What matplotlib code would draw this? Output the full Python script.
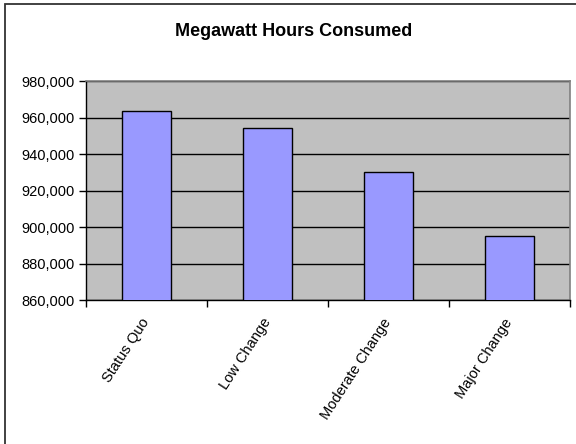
import matplotlib.pyplot as plt
from matplotlib.patches import Rectangle
from matplotlib.ticker import FuncFormatter, FixedLocator
import numpy as np

plt.rcParams['font.family'] = ['Liberation Sans', 'DejaVu Sans']

scenarios = ['Status Quo', 'Low Change', 'Moderate Change', 'Major Change']
mwh = [963700, 954400, 930100, 895200]
y_ticks = [860000, 880000, 900000, 920000, 940000, 960000, 980000]

fig = plt.figure(figsize=(5.76, 4.44), dpi=100)

# chart area frame (top and left edges show, the rest runs off the canvas)
fig.patches.append(Rectangle((5 / 576, -0.05), 1.2, 1 - 4 / 444 + 0.05,
                             transform=fig.transFigure, fill=False,
                             edgecolor='#333333', linewidth=1.3))

ax = fig.add_axes([86 / 576, 1 - 300 / 444, (570 - 86) / 576, (300 - 81) / 444])
ax.set_facecolor('#C0C0C0')

x = np.arange(len(scenarios))
ax.bar(x, mwh, width=0.4, color='#9999FF', edgecolor='black', linewidth=1, zorder=3)

ax.set_ylim(860000, 980000)
ax.set_xlim(-0.5, len(scenarios) - 0.5)
ax.set_yticks(y_ticks)
ax.yaxis.set_major_formatter(FuncFormatter(lambda v, p: f'{int(v):,}'))
ax.yaxis.grid(True, color='black', linewidth=1)
ax.set_axisbelow(True)

# category ticks sit on the boundaries, labels in the middle
ax.xaxis.set_major_locator(FixedLocator(np.arange(-0.5, len(scenarios), 1.0)))
ax.xaxis.set_minor_locator(FixedLocator(x))
ax.set_xticklabels([])
ax.set_xticklabels(scenarios, minor=True, rotation=57, ha='right',
                   va='center', rotation_mode='anchor', fontsize=10.5)
ax.tick_params(axis='x', which='major', length=5, width=1, direction='out')
ax.tick_params(axis='x', which='minor', length=0, pad=14)
ax.tick_params(axis='y', length=5, width=1, labelsize=10.5, pad=3)

for side in ['top', 'right']:
    ax.spines[side].set_color('#808080')
    ax.spines[side].set_linewidth(1.2)
for side in ['left', 'bottom']:
    ax.spines[side].set_color('black')
    ax.spines[side].set_linewidth(1)

fig.text(294 / 576, 1 - 31 / 444, 'Megawatt Hours Consumed', ha='center', va='center',
         fontsize=13, fontweight='bold')

fig.savefig('out.png', dpi=100)
